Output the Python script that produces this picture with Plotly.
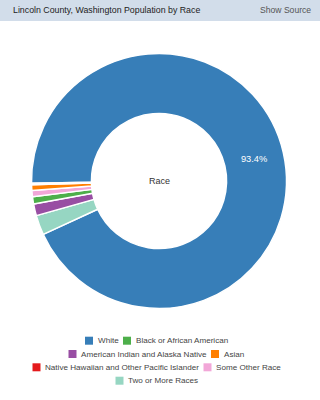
import plotly.graph_objects as go

labels = ["White", "Black or African American", "American Indian and Alaska Native",
          "Asian", "Native Hawaiian and Other Pacific Islander", "Some Other Race",
          "Two or More Races"]
values = [93.4, 0.9, 1.5, 0.7, 0.2, 0.8, 2.5]
colors = ["#377eb8", "#4daf4a", "#984ea3", "#ff7f00", "#e41a1c", "#f2a7d8", "#96d6c2"]
title_text = "Lincoln County, Washington Population by Race"
center_text = "Race"

W, H = 320, 400
FONT = "Liberation Sans, Arial, sans-serif"

# pie geometry (pixels)
cx, cy, R = 159, 181, 127.5

textpos = ["inside" if v == max(values) else "none" for v in values]

fig = go.Figure()
fig.add_trace(go.Pie(
    labels=labels, values=values,
    marker=dict(colors=colors, line=dict(color="white", width=1.5)),
    hole=0.53, sort=True, direction="clockwise", rotation=269,
    textposition=textpos, texttemplate="%{percent:.1%}",
    insidetextfont=dict(family=FONT, size=9.3, color="white"),
    insidetextorientation="horizontal",
    showlegend=False, hoverinfo="label+percent",
    domain=dict(x=[(cx - R) / W, (cx + R) / W],
                y=[1 - (cy + R) / H, 1 - (cy - R) / H]),
))

shapes = [dict(type="rect", xref="paper", yref="paper", x0=0, x1=1,
               y0=1 - 21 / H, y1=1, fillcolor="#d2ddea", line=dict(width=0), layer="below")]

annotations = [
    dict(text=title_text, x=11 / W, y=1 - 10.5 / H, xref="paper", yref="paper",
         xanchor="left", yanchor="middle", showarrow=False,
         font=dict(family=FONT, size=8.8, color="#222222")),
    dict(text="Show Source", x=1 - 7 / W, y=1 - 10.5 / H, xref="paper", yref="paper",
         xanchor="right", yanchor="middle", showarrow=False,
         font=dict(family=FONT, size=8.6, color="#555555")),
    dict(text=center_text, x=cx / W, y=1 - cy / H, xref="paper", yref="paper",
         xanchor="center", yanchor="middle", showarrow=False,
         font=dict(family=FONT, size=9, color="#333333")),
]

# legend layout (manual, centered rows like the reference): swatch left edge / row centre, px
legend_x = [85, 123, 68.5, 211, 32.5, 203.5, 115.5]
legend_y = [340.7, 340.7, 354, 354, 367.3, 367.3, 380.7]
SW = 8
for lab, col, lx, ly in zip(labels, colors, legend_x, legend_y):
    shapes.append(dict(type="rect", xref="paper", yref="paper",
                       x0=lx / W, x1=(lx + SW) / W,
                       y0=1 - (ly + SW / 2) / H, y1=1 - (ly - SW / 2) / H,
                       fillcolor=col, line=dict(width=0)))
    annotations.append(dict(text=lab, x=(lx + SW + 2.5) / W, y=1 - ly / H,
                            xref="paper", yref="paper", xanchor="left", yanchor="middle",
                            showarrow=False,
                            font=dict(family=FONT, size=8.1, color="#444444")))

fig.update_layout(width=W, height=H, margin=dict(l=0, r=0, t=0, b=0),
                  paper_bgcolor="white", plot_bgcolor="white",
                  shapes=shapes, annotations=annotations)

fig.write_html("out.html")
